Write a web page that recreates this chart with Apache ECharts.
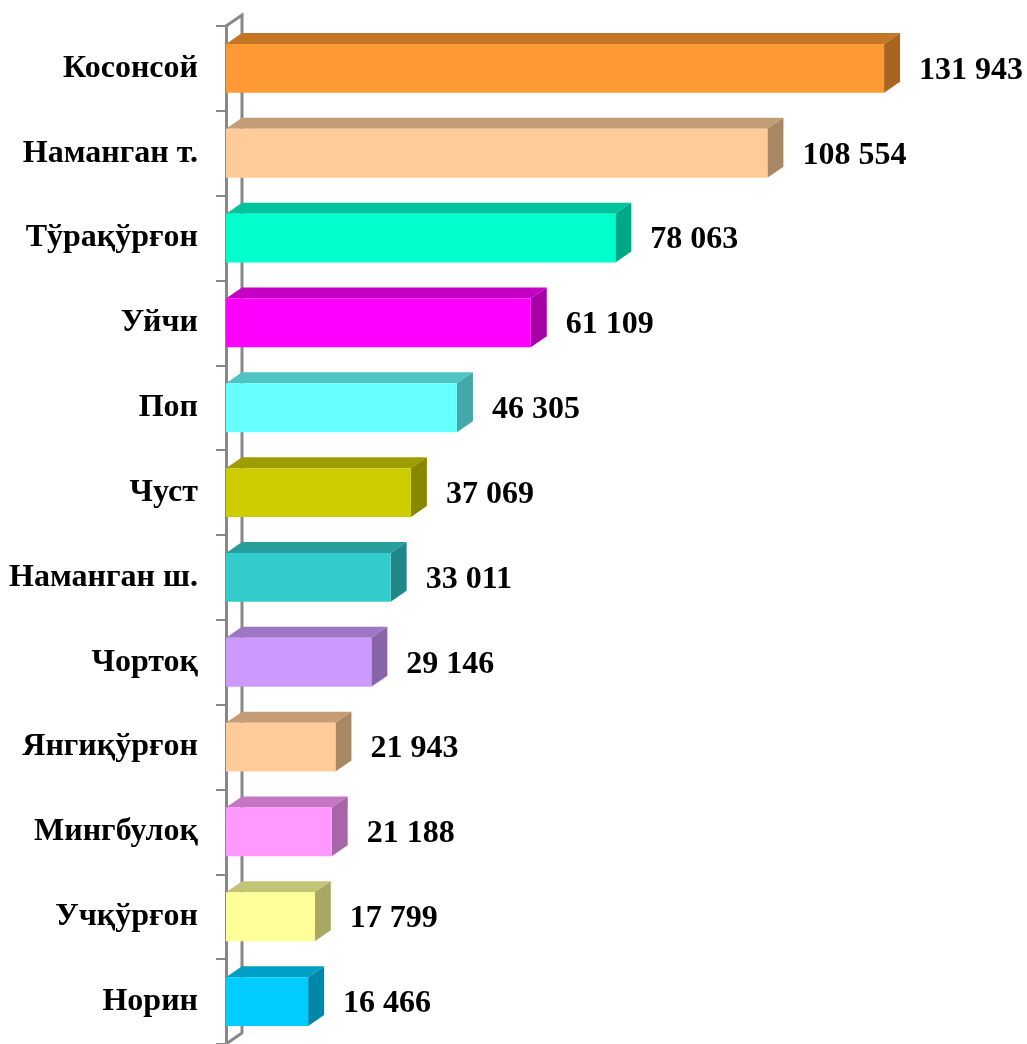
<!DOCTYPE html>
<html><head><meta charset="utf-8">
<script src="https://cdn.jsdelivr.net/npm/echarts@6/dist/echarts.min.js"></script>
<style>html,body{margin:0;padding:0;background:#fff}#c{width:1027px;height:1044px}</style>
</head><body><div id="c"></div>
<script>
const categories = ['Косонсой','Наманган т.','Тўрақўрғон','Уйчи','Поп','Чуст','Наманган ш.','Чортоқ','Янгиқўрғон','Мингбулоқ','Учқўрғон','Норин'];
const values = [131943,108554,78063,61109,46305,37069,33011,29146,21943,21188,17799,16466];
const labels = ['131 943','108 554','78 063','61 109','46 305','37 069','33 011','29 146','21 943','21 188','17 799','16 466'];
const colors = ['#FF9933','#FFCC99','#00FFCC','#FF00FF','#66FFFF','#CCCC00','#33CCCC','#CC99FF','#FFCC99','#FF99FF','#FFFF99','#00CCFF'];

const FONT = '"Liberation Serif","Times New Roman",serif';
const DX = 16, DY = 11;

function shade(hex, f){
  const n = parseInt(hex.slice(1),16);
  const r = Math.round(((n>>16)&255)*f), g = Math.round(((n>>8)&255)*f), b = Math.round((n&255)*f);
  return 'rgb('+r+','+g+','+b+')';
}

const chart = echarts.init(document.getElementById('c'));
const data = values.map((v,i)=>[v,i]);

chart.setOption({
  animation:false,
  grid:{left:226, top:26, width:798, height:1023},
  xAxis:{type:'value', min:0, max:160000, show:false},
  yAxis:{type:'category', data:categories, inverse:true,
    axisLine:{show:true, lineStyle:{color:'#888888', width:3}},
    axisTick:{show:true, length:10, lineStyle:{color:'#888888', width:2}},
    axisLabel:{fontFamily:FONT, fontWeight:'bold', fontSize:32, color:'#000', margin:28}
  },
  series:[
    {type:'custom', z:1, silent:true, data:[[0,0]],
     renderItem:function(params, api){
       const cs = params.coordSys;
       const x=cs.x, y=cs.y, h=cs.height;
       return {type:'group', children:[
         {type:'polyline', shape:{points:[[x,y],[x+DX,y-DY],[x+DX,y+h-DY],[x,y+h]]},
          style:{stroke:'#888888', lineWidth:3, fill:null}}
       ]};
     }},
    {type:'custom', z:2, data:data,
     renderItem:function(params, api){
       const i = api.value(1);
       const p0 = api.coord([0,i]);
       const p1 = api.coord([api.value(0),i]);
       const bh = api.size([0,1])[1]*0.575;
       const x0=p0[0], x1=p1[0], yt=p0[1]-bh/2, yb=p0[1]+bh/2;
       const c = colors[i];
       return {type:'group', children:[
         {type:'polygon', shape:{points:[[x0,yt],[x0+DX,yt-DY],[x1+DX,yt-DY],[x1,yt]]}, style:{fill:shade(c,0.77)}},
         {type:'polygon', shape:{points:[[x1,yt],[x1+DX,yt-DY],[x1+DX,yb-DY],[x1,yb]]}, style:{fill:shade(c,0.66)}},
         {type:'rect', shape:{x:x0, y:yt, width:x1-x0, height:bh}, style:{fill:c}},
         {type:'text', x:x1+35, y:p0[1]+2, style:{text:labels[i], font:'bold 32px '+FONT, fill:'#000', textAlign:'left', textVerticalAlign:'middle'}}
       ]};
     }}
  ]
});
</script></body></html>
